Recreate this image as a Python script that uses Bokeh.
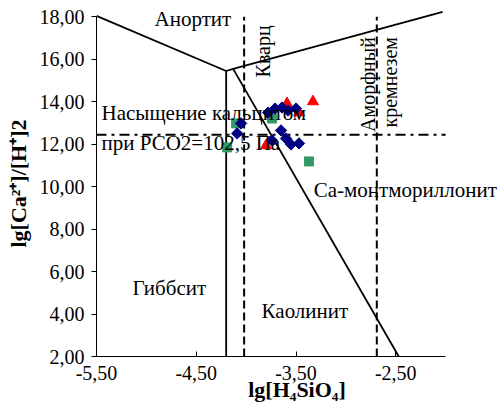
from bokeh.plotting import figure
from bokeh.models import CustomJSTickFormatter, FixedTicker, Range1d
from bokeh.core.properties import value
from bokeh.embed import file_html
from bokeh.resources import INLINE
import math

# ---- data ----
blue_x = [-4.05, -4.09, -3.78, -3.71, -3.64, -3.58, -3.50, -3.65, -3.60, -3.74, -3.55, -3.47]
blue_y = [12.98, 12.51, 13.49, 13.68, 13.73, 13.59, 13.68, 12.65, 12.27, 12.18, 11.99, 12.04]
red_x = [-3.59, -3.47, -3.33, -3.80]
red_y = [13.92, 13.49, 14.01, 11.94]
green_x = [-4.10, -4.19, -3.74, -3.37]
green_y = [12.98, 11.85, 13.21, 11.19]

# boundary lines of the stability diagram
gibbs_x = [-4.2, -4.2]
gibbs_y = [2.0, 15.45]
anort_gibbs_x = [-5.5, -4.2, -4.13]
anort_gibbs_y = [18.05, 15.45, 15.55]
anort_kaol_x = [-4.13, -2.03]
anort_kaol_y = [15.55, 18.23]
kaol_mont_x = [-4.13, -2.47]
kaol_mont_y = [15.55, 2.0]
quartz_x = -4.02
amorph_x = -2.69
calcite_y = 12.45

x_ticks = [-5.5, -4.5, -3.5, -2.5]
y_ticks = [2, 4, 6, 8, 10, 12, 14, 16, 18]

SERIF = "Liberation Serif"

p = figure(width=497, height=410, output_backend="svg", toolbar_location=None,
           x_range=Range1d(-5.5, -1.48), y_range=Range1d(2.0, 18.3),
           min_border_left=96, min_border_right=0, min_border_top=10, min_border_bottom=54)
p.outline_line_color = None
p.grid.visible = False
p.background_fill_color = "white"
p.border_fill_color = "white"

for ax in (p.xaxis[0], p.yaxis[0]):
    ax.formatter = CustomJSTickFormatter(code="return tick.toFixed(2).replace('.', ',');")
    ax.major_label_text_font = SERIF
    ax.major_label_text_font_size = "20px"
    ax.major_label_text_color = "black"
    ax.axis_label_text_font = SERIF
    ax.axis_label_text_font_style = "bold"
    ax.axis_label_text_font_size = "22px"
    ax.axis_label_text_color = "black"
    ax.axis_line_color = "black"
    ax.major_tick_line_color = "black"
    ax.minor_tick_line_color = None

p.xaxis[0].ticker = FixedTicker(ticks=x_ticks)
p.yaxis[0].ticker = FixedTicker(ticks=y_ticks)
p.xaxis[0].bounds = (-5.5, -2.0)
p.yaxis[0].bounds = (2.0, 18.0)
p.xaxis[0].major_tick_in = 5
p.xaxis[0].major_tick_out = 0
p.yaxis[0].major_tick_in = 0
p.yaxis[0].major_tick_out = 5
p.xaxis[0].major_label_standoff = 9
p.yaxis[0].major_label_standoff = 7
p.xaxis[0].axis_label = "lg[H₄SiO₄]"
p.yaxis[0].axis_label = "lg[Ca²⁺]/[H⁺]2"
p.xaxis[0].axis_label_standoff = -6
p.yaxis[0].axis_label_standoff = 6

# boundary lines
for xs, ys in [(gibbs_x, gibbs_y), (anort_gibbs_x, anort_gibbs_y),
               (anort_kaol_x, anort_kaol_y), (kaol_mont_x, kaol_mont_y)]:
    p.line(xs, ys, line_color="black", line_width=1.8)

p.line([quartz_x, quartz_x], [2.0, 18.0], line_color="black", line_width=2, line_dash="8 4")
p.line([amorph_x, amorph_x], [2.0, 18.0], line_color="black", line_width=2, line_dash="8 4")
p.line([-5.5, -2.0], [calcite_y, calcite_y], line_color="black", line_width=2, line_dash="10 5 3 5")

# points
p.scatter(green_x, green_y, marker="square", size=9, fill_color="#339966", line_color="#339966")
p.scatter(red_x, red_y, marker="triangle", size=11, fill_color="#FF0000", line_color="#FF0000")
p.scatter(blue_x, blue_y, marker="square", angle=math.pi / 4, size=8,
          fill_color="#000080", line_color="#000080")

# region labels
labels = [
    ("Анортит", -4.918, 17.9),
    ("Насыщение кальцитом", -5.45, 13.45),
    ("при РСО2=102,5 Па", -5.45, 12.08),
    ("Са-монтмориллонит", -3.323, 9.83),
    ("Гиббсит", -5.139, 5.23),
    ("Каолинит", -3.845, 4.15),
]
p.text(x=[l[1] for l in labels], y=[l[2] for l in labels], text=[l[0] for l in labels],
       text_font=value(SERIF), text_font_size="21px", text_color="black",
       text_align="left", text_baseline="middle")

vlabels = [
    ("Кварц", -3.835, 17.6),
    ("Аморфный", -2.782, 17.05),
    ("кремнезем", -2.561, 17.05),
]
p.text(x=[l[1] for l in vlabels], y=[l[2] for l in vlabels], text=[l[0] for l in vlabels],
       angle=math.pi / 2, text_font=value(SERIF), text_font_size="20px", text_color="black",
       text_align="right", text_baseline="middle")

open("out.html", "w").write(file_html(p, INLINE))
